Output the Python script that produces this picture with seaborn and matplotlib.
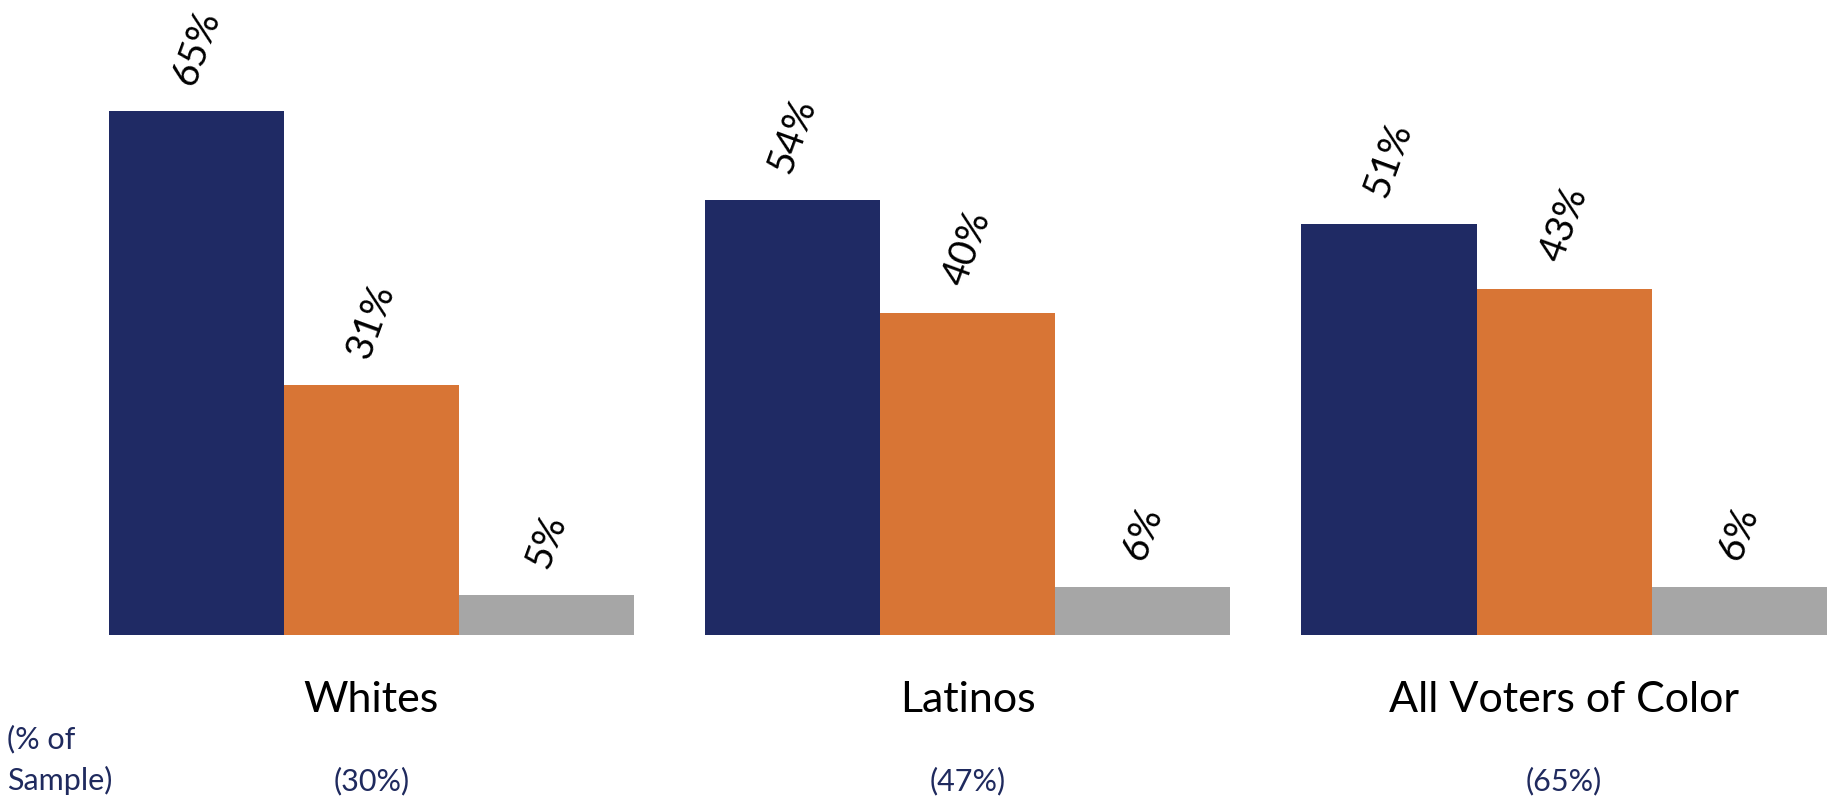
"""Grouped bar chart: vote share by group, with sample size notes."""

import matplotlib

matplotlib.use("Agg")
import matplotlib.pyplot as plt
import pandas as pd
import seaborn as sns

groups = ["Whites", "Latinos", "All Voters of Color"]
sample_share = ["(30%)", "(47%)", "(65%)"]
series = ["Democrat", "Republican", "Other"]
dem_values = [65, 54, 51]
rep_values = [31, 40, 43]
other_values = [5, 6, 6]

NAVY = "#1F2A64"
ORANGE = "#D87535"
GRAY = "#A6A6A6"
TEXT_NAVY = "#1F2A5E"

frame = pd.DataFrame(
    {
        "group": groups * 3,
        "series": [s for s in series for _ in groups],
        "value": dem_values + rep_values + other_values,
    }
)

sns.set_theme(style="white")
plt.rcParams["font.family"] = ["Lato", "DejaVu Sans"]

fig = plt.figure(figsize=(18.31, 7.98), dpi=100)
ax = fig.add_axes([108.6 / 1831, 163 / 798, (1826.8 - 108.6) / 1831, 564 / 798])

bar_width = 0.881
sns.barplot(
    data=frame,
    x="group",
    y="value",
    hue="series",
    order=groups,
    hue_order=series,
    palette=[NAVY, ORANGE, GRAY],
    width=bar_width,
    gap=0,
    saturation=1,
    linewidth=0,
    legend=False,
    ax=ax,
)

for container in ax.containers:
    for patch in container:
        h = patch.get_height()
        ax.annotate(
            f"{h:.0f}%",
            xy=(patch.get_x() + patch.get_width() / 2, h),
            xytext=(0, 16),
            textcoords="offset points",
            rotation=70,
            ha="center",
            va="bottom",
            fontsize=28,
            color="black",
            annotation_clip=False,
        )

ax.set_xlim(-bar_width / 2, len(groups) - 1 + bar_width / 2)
ax.set_ylim(0, 70)
ax.set_xticks([])
ax.set_yticks([])
ax.set_xlabel("")
ax.set_ylabel("")
sns.despine(ax=ax, left=True, bottom=True)

xform = ax.get_xaxis_transform()
for i, (name, share) in enumerate(zip(groups, sample_share)):
    ax.text(i, -0.1365, name, transform=xform, ha="center", va="baseline",
            fontsize=31, color="black")
    ax.text(i, -0.275, share, transform=xform, ha="center", va="baseline",
            fontsize=22, color=TEXT_NAVY)

fig.text(7 / 1831, 1 - 748 / 798, "(% of", ha="left", va="baseline",
         fontsize=22, color=TEXT_NAVY)
fig.text(7 / 1831, 1 - 790 / 798, "Sample)", ha="left", va="baseline",
         fontsize=22, color=TEXT_NAVY)

fig.savefig("out.png", dpi=100)
